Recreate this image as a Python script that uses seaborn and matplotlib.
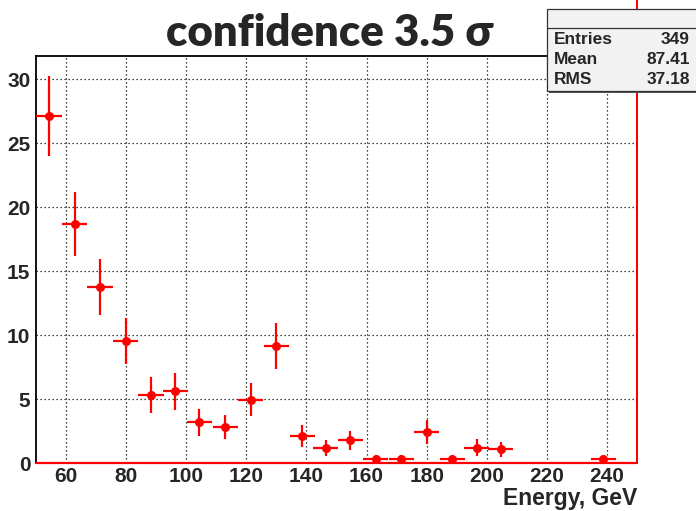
import numpy as np
import pandas as pd
import matplotlib
matplotlib.use("Agg")
import matplotlib.pyplot as plt
from matplotlib.patches import Rectangle
from matplotlib.lines import Line2D
from matplotlib.ticker import MultipleLocator
import seaborn as sns

# ---- data ----
energy = [54.3, 62.9, 71.3, 79.9, 88.3, 96.3, 104.4, 113.0, 121.4, 130.0,
          138.6, 146.4, 154.6, 163.0, 171.6, 180.0, 188.6, 196.7, 204.6, 238.8]
counts = [27.1, 18.7, 13.75, 9.5, 5.3, 5.6, 3.17, 2.8, 4.95, 9.16,
          2.08, 1.2, 1.77, 0.33, 0.33, 2.45, 0.33, 1.2, 1.06, 0.33]
count_err = [3.1, 2.5, 2.2, 1.8, 1.4, 1.45, 1.05, 0.95, 1.3, 1.8,
             0.86, 0.62, 0.73, 0.33, 0.33, 0.93, 0.33, 0.67, 0.58, 0.33]
half_bin = 4.2
x_range = (50, 250)
y_range = (0, 31.8)
x_ticks = [60, 80, 100, 120, 140, 160, 180, 200, 220, 240]
title = "confidence 3.5 σ"
xlabel = "Energy, GeV"
stats_names = ["Entries", "Mean", "RMS"]
stats_values = ["349", "87.41", "37.18"]

df = pd.DataFrame({"energy": energy, "counts": counts, "err": count_err})

sns.set_style("white")
plt.rcParams["font.family"] = ["Liberation Sans", "DejaVu Sans"]
plt.rcParams["font.weight"] = "bold"

W, H = 696, 511
fig = plt.figure(figsize=(W / 100, H / 100), dpi=100)
ax = fig.add_axes([36 / W, 1 - 463 / H, (637 - 36) / W, (463 - 56) / H])

ax.errorbar(df["energy"], df["counts"], yerr=df["err"], xerr=half_bin,
            fmt="none", ecolor="red", elinewidth=1.6, capsize=0, zorder=3)
sns.scatterplot(data=df, x="energy", y="counts", color="red", edgecolor="red",
                s=42, marker="o", linewidth=0, zorder=4, ax=ax)

# histogram outline parts visible in the reference
ax.axhline(0, color="red", lw=1.6, zorder=5, clip_on=False)
ax.plot([x_range[1], x_range[1]], [y_range[0], y_range[1] * 1.2], color="red",
        lw=1.4, zorder=5, clip_on=False)

ax.set_xlim(*x_range)
ax.set_ylim(*y_range)
ax.set_xticks(x_ticks)
ax.xaxis.set_minor_locator(MultipleLocator(5))
ax.yaxis.set_major_locator(MultipleLocator(5))
ax.yaxis.set_minor_locator(MultipleLocator(1))

ax.grid(True, which="major", color="black", linestyle=(0, (1, 2.2)), lw=0.9)
ax.set_axisbelow(True)

ax.tick_params(axis="x", which="major", direction="in", length=8.6, width=0.9,
               pad=3, labelsize=15)
ax.tick_params(axis="x", which="minor", direction="in", length=4.3, width=0.9)
ax.tick_params(axis="y", which="major", direction="in", length=13, width=0.9,
               pad=4, labelsize=15)
ax.tick_params(axis="y", which="minor", direction="in", length=6.5, width=0.9)
for lab in ax.get_xticklabels() + ax.get_yticklabels():
    lab.set_fontweight("bold")

for s in ax.spines.values():
    s.set_visible(True)
    s.set_color("black")
    s.set_linewidth(1.3)

ax.set_xlabel("")
ax.set_ylabel("")

fig.text(637 / W, 1 - 505 / H, xlabel, ha="right", va="baseline",
         fontsize=16.5, fontweight="bold")

fig.text(329 / W, 1 - 46 / H, title, ha="center", va="baseline",
         fontsize=31.5, fontweight="heavy", family=["Lato", "DejaVu Sans"])

# stats box
def fx(px):
    return px / W

def fy(py):
    return 1 - py / H

box_l, box_t, box_b, box_r = 547, 9, 91, 702
fig.add_artist(Rectangle((fx(box_l + 2), fy(box_b + 2)), fx(box_r - box_l), fy(box_t) - fy(box_b),
                         transform=fig.transFigure, facecolor="#555555", edgecolor="none",
                         zorder=9))
fig.add_artist(Rectangle((fx(box_l), fy(box_b)), fx(box_r - box_l), fy(box_t) - fy(box_b),
                         transform=fig.transFigure, facecolor="#f2f2f2", edgecolor="#333333",
                         lw=0.9, zorder=10))
fig.add_artist(Line2D([fx(box_l), fx(box_r)], [fy(28), fy(28)], transform=fig.transFigure,
                      color="#333333", lw=0.9, zorder=11))
row_y = [39, 59.5, 80]
for name, val, ry in zip(stats_names, stats_values, row_y):
    fig.text(fx(554), fy(ry), name, ha="left", va="center", fontsize=12.5,
             fontweight="bold", zorder=12)
    fig.text(fx(690), fy(ry), val, ha="right", va="center", fontsize=12.5,
             fontweight="bold", zorder=12)

fig.savefig("out.png", dpi=100)
